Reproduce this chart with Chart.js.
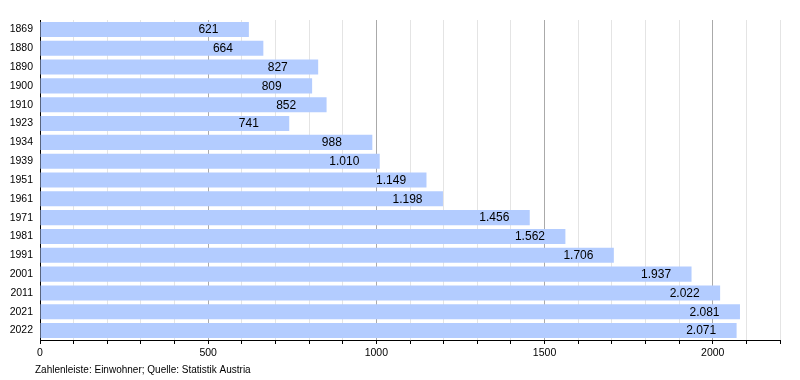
<!DOCTYPE html>
<html>
<head>
<meta charset="utf-8">
<script src="https://cdn.jsdelivr.net/npm/chart.js@4/dist/chart.umd.min.js"></script>
<style>
html,body{margin:0;padding:0;background:#fff;}
canvas{display:block;}
</style>
</head>
<body>
<canvas id="c" width="800" height="380"></canvas>
<script>
const years = ['1869','1880','1890','1900','1910','1923','1934','1939','1951','1961','1971','1981','1991','2001','2011','2021','2022'];
const population = [621,664,827,809,852,741,988,1010,1149,1198,1456,1562,1706,1937,2022,2081,2071];
const xTickLabels = [0,500,1000,1500,2000];
const caption = 'Zahlenleiste: Einwohner; Quelle: Statistik Austria';

const FONT = '"Liberation Sans", Arial, Helvetica, sans-serif';

function fmt(v){
  const s = String(v);
  return s.length > 3 ? s.slice(0, s.length-3) + '.' + s.slice(-3) : s;
}

const valueLabels = {
  id: 'valueLabels',
  afterDatasetsDraw(chart){
    const ctx = chart.ctx;
    const xs = chart.scales.x;
    const meta = chart.getDatasetMeta(0);
    ctx.save();
    ctx.font = '12px ' + FONT;
    ctx.fillStyle = '#000';
    ctx.textAlign = 'left';
    ctx.textBaseline = 'middle';
    meta.data.forEach((bar, i) => {
      const v = population[i];
      ctx.fillText(fmt(v), xs.getPixelForValue(v - 150), bar.y + 0.5);
    });
    ctx.restore();
  },
  afterDraw(chart){
    const ctx = chart.ctx;
    ctx.save();
    ctx.font = '10px ' + FONT;
    ctx.fillStyle = '#000';
    ctx.textAlign = 'left';
    ctx.textBaseline = 'middle';
    ctx.fillText(caption, 35, 370);
    ctx.restore();
  }
};

new Chart(document.getElementById('c'), {
  type: 'bar',
  data: {
    labels: years,
    datasets: [{
      data: population,
      backgroundColor: '#b3ccff',
      borderWidth: 0,
      barPercentage: 0.8,
      categoryPercentage: 1.0
    }]
  },
  options: {
    indexAxis: 'y',
    responsive: false,
    animation: false,
    layout: { padding: { top: 20, right: 20, bottom: 20, left: 0 } },
    plugins: { legend: { display: false }, tooltip: { enabled: false } },
    scales: {
      x: {
        min: 0, max: 2200,
        afterFit(s){ s.height = 20; },
        ticks: {
          stepSize: 100,
          autoSkip: false,
          maxRotation: 0,
          padding: 3,
          color: '#000',
          font: { family: FONT, size: 10.5 },
          callback: (v) => xTickLabels.includes(v) ? String(v) : ''
        },
        grid: {
          color: (c) => (c.tick && c.tick.value % 500 === 0) ? '#aaaaaa' : '#e4e4e4',
          lineWidth: 1,
          tickColor: '#000',
          tickLength: 4,
          drawTicks: true
        },
        border: { color: '#000', width: 1 }
      },
      y: {
        afterFit(s){ s.width = 40; },
        ticks: {
          padding: 7,
          color: '#000',
          font: { family: FONT, size: 10.5 }
        },
        grid: { display: false, drawTicks: false },
        border: { color: '#000', width: 1 }
      }
    }
  },
  plugins: [valueLabels]
});
</script>
</body>
</html>
